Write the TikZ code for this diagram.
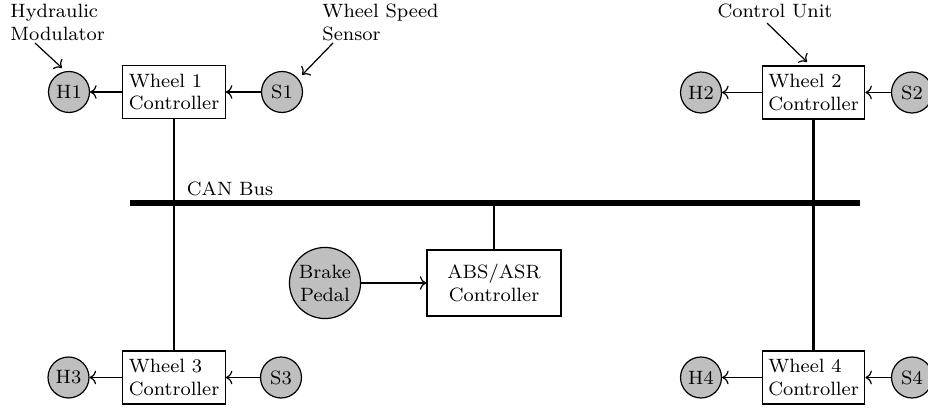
\documentclass[tikz,border=0pt]{standalone}
\usetikzlibrary{arrows.meta}
\begin{document}
\begin{tikzpicture}[x=0.415pt,y=-0.415pt,
  font=\footnotesize,
  ctrl/.style={draw,rectangle,align=left,minimum width=41pt,minimum height=22pt,inner sep=2.5pt,line width=0.5pt},
  absbox/.style={draw,rectangle,align=center,minimum width=55.6pt,minimum height=27.4pt,line width=0.5pt},
  dev/.style={draw,circle,fill=gray!50,minimum size=17pt,inner sep=0.5pt,line width=0.5pt},
  pedal/.style={draw,circle,fill=gray!50,minimum size=29.5pt,inner sep=0.5pt,align=center,line width=0.5pt},
  lbl/.style={inner sep=0pt,align=left},
  sig/.style={->,line width=0.5pt},
  link/.style={line width=1.2pt},
  bus/.style={line width=2.1pt}]
\useasboundingbox (0,0) rectangle (928,408);
\clip (0,0) rectangle (928,408);

% wheel controllers
\node[ctrl] (w1) at (174,92) {Wheel 1\\Controller};
\node[ctrl] (w2) at (813.5,92.5) {Wheel 2\\Controller};
\node[ctrl] (w3) at (174,377.5) {Wheel 3\\Controller};
\node[ctrl] (w4) at (813.5,377.5) {Wheel 4\\Controller};

% hydraulic modulators and sensors
\node[dev] (h1) at (69,92) {H1};
\node[dev] (s1) at (282,92) {S1};
\node[dev] (h2) at (701,92.5) {H2};
\node[dev] (s2) at (912,92.5) {S2};
\node[dev] (h3) at (68.5,377.5) {H3};
\node[dev] (s3) at (281,377.5) {S3};
\node[dev] (h4) at (701,377.5) {H4};
\node[dev] (s4) at (912,377.5) {S4};

% central controller and pedal
\node[absbox] (abs) at (494,283) {ABS/ASR\\Controller};
\node[pedal] (brake) at (325,283) {Brake\\Pedal};

% CAN bus
\coordinate (busL) at (130,203);
\coordinate (busR) at (860,203);
\draw[bus] (busL) -- (busR);
\node[inner sep=0pt] (canlbl) at (230,189) {CAN Bus};

% links
\draw[link] (w1.south) -- (w3.north);
\draw[link] (w2.south) -- (w4.north);
\draw[link] (abs.north) -- (abs.north |- busL);

% signal arrows
\draw[sig] (s1) -- (w1);
\draw[sig] (w1) -- (h1);
\draw[sig] (s2) -- (w2);
\draw[sig] (w2) -- (h2);
\draw[sig] (s3) -- (w3);
\draw[sig] (w3) -- (h3);
\draw[sig] (s4) -- (w4);
\draw[sig] (w4) -- (h4);
\draw[sig] (brake) -- (abs);

% annotations
\node[lbl,anchor=west] (hmlbl) at (10,22) {Hydraulic\\Modulator};
\node[lbl,anchor=west] (wslbl) at (322,22) {Wheel Speed\\Sensor};
\node[inner sep=0pt,anchor=base] (culbl) at (775,18) {Control Unit};
\coordinate (hmA) at (35,43);
\coordinate (hmB) at (62,68);
\coordinate (wsA) at (333,43);
\coordinate (wsB) at (302,75);
\coordinate (cuA) at (767,23);
\coordinate (cuB) at (807,62);
\draw[sig] (hmA) -- (hmB);
\draw[sig] (wsA) -- (wsB);
\draw[sig] (cuA) -- (cuB);
\end{tikzpicture}
\end{document}
